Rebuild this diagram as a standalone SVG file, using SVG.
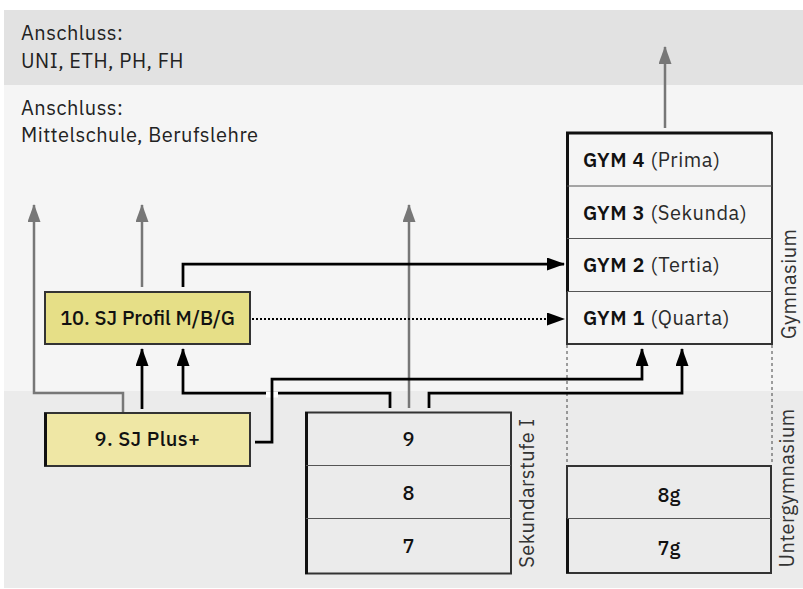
<svg xmlns="http://www.w3.org/2000/svg" width="803" height="589" viewBox="0 0 803 589">
  <style>
    .hdr { font-family: "IBM Plex Sans", "Noto Sans", "Liberation Sans", sans-serif; font-size: 20px; letter-spacing: 0.5px; fill: #222; }
    .lbl { font-family: "IBM Plex Sans", "Noto Sans", "Liberation Sans", sans-serif; font-size: 20px; fill: #111; text-anchor: middle; font-weight: 500; }
    .gym { font-family: "IBM Plex Sans", "Noto Sans", "Liberation Sans", sans-serif; font-size: 20px; letter-spacing: 0.6px; fill: #2a2a2a; }
    .gym tspan.b { font-weight: 600; fill: #111; }
    .side { font-family: "IBM Plex Sans", "Noto Sans", "Liberation Sans", sans-serif; font-size: 20px; letter-spacing: 0.4px; fill: #333; text-anchor: middle; }
    .box { stroke: #333; stroke-width: 2; }
    .sep { stroke: #555; stroke-width: 1; fill: none; }
    .edge { stroke: #111; stroke-width: 3; fill: none; }
    .blk { stroke: #000; stroke-width: 2.75; fill: none; }
    .gry { stroke: #777; stroke-width: 2.5; fill: none; }
    .dot { stroke: #000; stroke-width: 2; fill: none; stroke-dasharray: 2 2; }
    .dash { stroke: #444; stroke-width: 1; fill: none; stroke-dasharray: 3 3; }
  </style>
  <defs>
    <marker id="ahBlack" viewBox="0 0 18 13" refX="17" refY="6.5" markerWidth="18" markerHeight="13" markerUnits="userSpaceOnUse" orient="auto">
      <path d="M0,0 L18,6.5 L0,13 Z" fill="#000"/>
    </marker>
    <marker id="ahGray" viewBox="0 0 18 13" refX="17" refY="6.5" markerWidth="18" markerHeight="13" markerUnits="userSpaceOnUse" orient="auto">
      <path d="M0,0 L18,6.5 L0,13 Z" fill="#777"/>
    </marker>
  </defs>

  <!-- background bands -->
  <g id="bands">
    <rect x="4" y="10" width="799" height="75" fill="#e2e2e2"/>
    <rect x="4" y="85" width="799" height="306" fill="#f5f5f5"/>
    <rect x="4" y="391" width="799" height="197" fill="#ebebeb"/>
    <text class="hdr" x="21" y="40">Anschluss:</text>
    <text class="hdr" x="21" y="68">UNI, ETH, PH, FH</text>
    <text class="hdr" x="21" y="115">Anschluss:</text>
    <text class="hdr" x="21" y="142">Mittelschule, Berufslehre</text>
  </g>

  <!-- connectors -->
  <g id="connectors">
    <!-- upward exits (gray) -->
    <path class="gry" d="M123,412 V393 H34 V205" marker-end="url(#ahGray)"/>
    <path class="gry" d="M142,287 V205" marker-end="url(#ahGray)"/>
    <path class="gry" d="M409,408 V205" marker-end="url(#ahGray)"/>
    <path class="gry" d="M665,128 V47" marker-end="url(#ahGray)"/>
    <!-- dashed guides Gymnasium / Untergymnasium -->
    <path class="dash" d="M567,345 V465 M772,345 V465"/>
    <!-- transitions (black) -->
    <path class="blk" d="M142,409 V349" marker-end="url(#ahBlack)"/>
    <path class="blk" d="M390,408 V393 H183 V349" marker-end="url(#ahBlack)"/>
    <path class="blk" d="M183,287 V264 H564" marker-end="url(#ahBlack)"/>
    <path class="dot" d="M252,319 H564" marker-end="url(#ahBlack)"/>
    <path class="blk" d="M429,408 V393 H682 V349" marker-end="url(#ahBlack)"/>
    <!-- line jump over the 393 level -->
    <rect x="266" y="391.5" width="12" height="6" fill="#fff"/>
    <path class="blk" d="M255,442 H272 V379 H642 V349" marker-end="url(#ahBlack)"/>
  </g>

  <!-- 10. Schuljahr Profil -->
  <g id="sj10">
    <rect class="box" x="45" y="292" width="205" height="52" fill="#e6df87"/>
    <text class="lbl" x="147.5" y="325">10. SJ Profil M/B/G</text>
  </g>

  <!-- 9. Schuljahr Plus -->
  <g id="sj9">
    <rect class="box" x="45" y="413" width="205" height="53" fill="#efe7a5"/>
    <path class="edge" d="M45.5,413 V466"/>
    <text class="lbl" x="147.5" y="446" letter-spacing="0.4">9. SJ Plus+</text>
  </g>

  <!-- Sekundarstufe I -->
  <g id="sek">
    <rect class="box" x="306" y="412.5" width="205" height="161" fill="#ebebeb"/>
    <path class="edge" d="M306.5,412 V574"/>
    <path class="sep" d="M306,465.5 H511 M306,518.5 H511"/>
    <text class="lbl" x="408.5" y="446">9</text>
    <text class="lbl" x="408.5" y="499.5">8</text>
    <text class="lbl" x="408.5" y="552.5">7</text>
    <text class="side" transform="translate(534,493) rotate(-90)">Sekundarstufe I</text>
  </g>

  <!-- Gymnasium -->
  <g id="gymnasium">
    <rect class="box" x="567" y="133" width="205" height="211" fill="#f5f5f5"/>
    <path class="edge" d="M567.5,132 V292 M566,133 H772"/>
    <path class="sep" d="M567,186 H772 M567,238.5 H772 M567,291.5 H772"/>
    <text class="gym" x="583" y="166.5"><tspan class="b">GYM 4</tspan> (Prima)</text>
    <text class="gym" x="583" y="219.5"><tspan class="b">GYM 3</tspan> (Sekunda)</text>
    <text class="gym" x="583" y="272"><tspan class="b">GYM 2</tspan> (Tertia)</text>
    <text class="gym" x="583" y="325"><tspan class="b">GYM 1</tspan> (Quarta)</text>
    <text class="side" transform="translate(796,284) rotate(-90)">Gymnasium</text>
  </g>

  <!-- Untergymnasium -->
  <g id="untergymnasium">
    <rect class="box" x="567" y="466" width="204" height="107" fill="#ebebeb"/>
    <path class="edge" d="M567.5,518 V573"/>
    <path class="sep" d="M567,518.5 H771"/>
    <text class="lbl" x="669" y="501.5">8g</text>
    <text class="lbl" x="669" y="554.5">7g</text>
    <text class="side" transform="translate(794,488) rotate(-90)">Untergymnasium</text>
  </g>
</svg>
